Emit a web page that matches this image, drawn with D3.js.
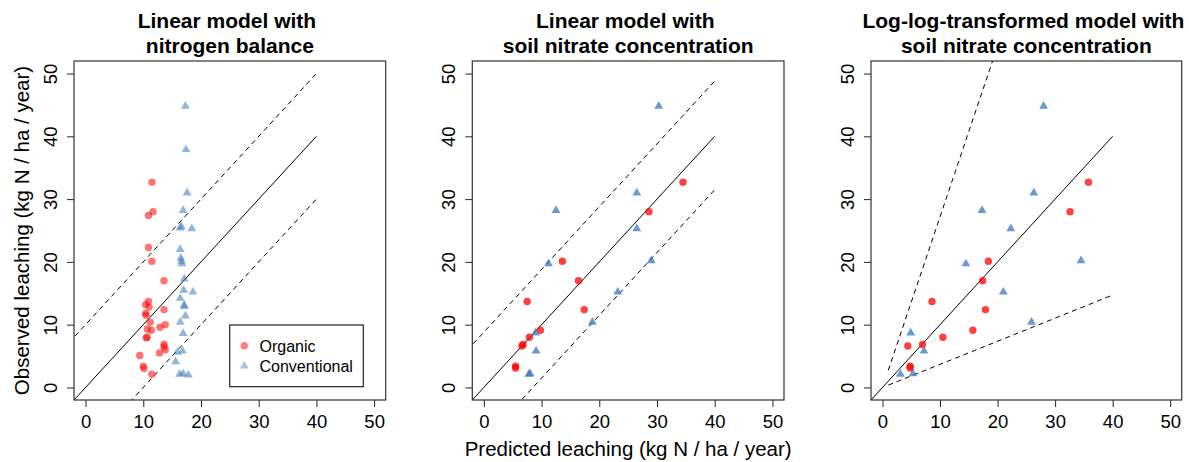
<!DOCTYPE html>
<html>
<head>
<meta charset="UTF-8">
<title>Observed vs predicted leaching</title>
<script src="https://cdn.jsdelivr.net/npm/d3@7"></script>
<style>
  body { margin: 0; background: #fff; }
  svg text { font-family: "Liberation Sans", Arial, sans-serif; fill: #000; }
  .title { font-weight: bold; font-size: 21px; white-space: pre; }
  .tick text { font-size: 18.5px; }
  .lab { font-size: 20.5px; }
  .legend text { font-size: 16px; }
</style>
</head>
<body>
<script>
// ---- data (kg N / ha / year) ----
// panel 1: nitrogen balance model, all sites
var nbOrgPred = [11.5, 11.7, 10.9, 10.9, 11.5, 13.6, 10.9, 10.4, 11.0, 13.6, 10.4, 10.5, 11.2, 13.8,
                 12.9, 10.7, 11.4, 10.7, 10.5, 13.6, 13.6, 13.8, 12.8, 9.4, 10.0, 10.1, 11.5];
var nbOrgObs  = [32.7, 28.0, 27.4, 22.3, 20.1, 17.0, 13.7, 13.2, 12.8, 12.4, 11.8, 11.5, 10.4, 10.0,
                 9.6, 9.3, 9.1, 8.0, 7.9, 6.9, 6.5, 6.0, 5.5, 5.1, 3.4, 3.0, 2.1];
var nbConPred = [17.3, 17.4, 17.6, 16.9, 16.6, 16.4, 18.4, 16.4, 16.5, 16.6, 16.7, 17.1, 17.0, 18.6,
                 16.4, 17.1, 17.1, 17.3, 16.4, 16.9, 15.9, 16.8, 15.6, 16.3, 16.9, 17.8];
var nbConObs  = [44.8, 37.9, 31.0, 28.2, 25.6, 25.4, 25.3, 22.0, 20.6, 20.1, 19.7, 17.3, 15.5, 15.2,
                 14.2, 12.9, 13.1, 11.4, 10.4, 8.6, 5.6, 5.8, 4.1, 2.1, 2.2, 2.0];

// panels 2 and 3: sites with soil nitrate data
var orgObs     = [32.7, 28.0, 20.1, 17.0, 13.7, 12.4, 9.1, 8.0, 6.85, 6.6, 3.4, 3.1];
var orgPredLin = [34.5, 28.6, 13.6, 16.4, 7.5, 17.4, 9.8, 7.9, 6.8, 6.6, 5.5, 5.5];
var orgPredLog = [35.8, 32.6, 18.4, 17.4, 8.6, 17.9, 15.7, 10.5, 6.95, 4.4, 4.8, 4.8];
var conObs     = [44.8, 31.0, 28.2, 25.3, 19.7, 20.2, 15.2, 10.4, 8.7, 5.8, 2.2, 2.1];
var conPredLin = [30.3, 26.5, 12.5, 26.5, 11.2, 29.0, 23.2, 18.8, 8.95, 9.05, 8.0, 7.8];
var conPredLog = [28.0, 26.3, 17.3, 22.3, 14.5, 34.5, 21.0, 25.9, 4.9, 7.2, 5.3, 3.1];

// reference lines: y = slope * x + offset, drawn over x range
var linSpan = [-5, 40];
var nbBand  = [10, -10];      // +/- offsets, panel 1
var linBand = [8.8, -8.5];    // panel 2
var logSpan = [1, 40];
var logBand = [Math.E, 1 / Math.E];  // multiplicative, panel 3

var ticks = [0, 10, 20, 30, 40, 50];
var titles = [
  ["Linear model with ", "nitrogen balance"],
  ["Linear model with ", "soil nitrate concentration"],
  ["Log-log-transformed model with ", "soil nitrate concentration"]
];
var legendLabels = ["Organic", "Conventional"];

// ---- drawing ----
var W = 1189, H = 462;
var svg = d3.select("body").append("svg").attr("width", W).attr("height", H);

var boxTop = 61, boxBottom = 400;
var panels = [
  {x0: 74,    x1: 385.7},
  {x0: 472.3, x1: 784},
  {x0: 871,   x1: 1181.7}
];

var red = "#ff0000", blue = "#3a78b8";
var tri = d3.symbol().type(d3.symbolTriangle).size(34);

function drawPanel(i, orgX, orgY, conX, conY, lines, alpha) {
  var p = panels[i];
  var x = d3.scaleLinear().domain([-2, 52]).range([p.x0, p.x1]);
  var y = d3.scaleLinear().domain([-2, 52]).range([boxBottom, boxTop]);
  var g = svg.append("g");
  var cx = (p.x0 + p.x1) / 2;

  g.append("clipPath").attr("id", "clip" + i)
    .append("rect").attr("x", p.x0).attr("y", boxTop)
    .attr("width", p.x1 - p.x0).attr("height", boxBottom - boxTop);

  // title
  g.append("text").attr("class", "title").attr("x", cx).attr("y", 28)
    .attr("text-anchor", "middle").text(titles[i][0]);
  g.append("text").attr("class", "title").attr("x", cx).attr("y", 53)
    .attr("text-anchor", "middle").text(titles[i][1]);

  // axes
  var xa = g.append("g").attr("transform", "translate(0," + boxBottom + ")")
    .call(d3.axisBottom(x).tickValues(ticks).tickSize(7).tickPadding(8).tickSizeOuter(0));
  xa.select(".domain").remove();
  xa.selectAll("text").attr("dy", 0).attr("y", 27.5);

  var ya = g.append("g").attr("transform", "translate(" + p.x0 + ",0)")
    .call(d3.axisLeft(y).tickValues(ticks).tickSize(7).tickSizeOuter(0));
  ya.select(".domain").remove();
  ya.selectAll(".tick text")
    .attr("x", null).attr("dy", 0)
    .attr("transform", "translate(-17,0) rotate(-90)")
    .attr("text-anchor", "middle");
  g.selectAll(".tick line").attr("stroke", "#222");

  // reference lines
  var lg = g.append("g").attr("clip-path", "url(#clip" + i + ")");
  var line = d3.line().x(function(d) { return x(d[0]); }).y(function(d) { return y(d[1]); });
  lines.forEach(function(l) {
    lg.append("path")
      .attr("d", line(l.pts))
      .attr("fill", "none").attr("stroke", "#000").attr("stroke-width", 1)
      .attr("stroke-dasharray", l.dash ? "5,4" : null);
  });

  // points
  var pg = g.append("g");
  pg.selectAll("circle").data(d3.zip(orgX, orgY)).join("circle")
    .attr("cx", function(d) { return x(d[0]); })
    .attr("cy", function(d) { return y(d[1]); })
    .attr("r", 3.7).attr("fill", red).attr("fill-opacity", alpha);
  pg.selectAll("path").data(d3.zip(conX, conY)).join("path")
    .attr("d", tri)
    .attr("transform", function(d) { return "translate(" + x(d[0]) + "," + y(d[1]) + ")"; })
    .attr("fill", blue).attr("fill-opacity", alpha);

  // box
  g.append("rect").attr("x", p.x0).attr("y", boxTop)
    .attr("width", p.x1 - p.x0).attr("height", boxBottom - boxTop)
    .attr("fill", "none").attr("stroke", "#333").attr("stroke-width", 1.2);

  return {x: x, y: y, g: g};
}

function offsetLine(span, k) { return span.map(function(v) { return [v, v + k]; }); }
function ratioLine(span, k) { return span.map(function(v) { return [v, v * k]; }); }

var p1 = drawPanel(0, nbOrgPred, nbOrgObs, nbConPred, nbConObs, [
  {pts: offsetLine(linSpan, 0)},
  {pts: offsetLine(linSpan, nbBand[0]), dash: true},
  {pts: offsetLine(linSpan, nbBand[1]), dash: true}
], 0.55);

drawPanel(1, orgPredLin, orgObs, conPredLin, conObs, [
  {pts: offsetLine(linSpan, 0)},
  {pts: offsetLine(linSpan, linBand[0]), dash: true},
  {pts: offsetLine(linSpan, linBand[1]), dash: true}
], 0.75);

drawPanel(2, orgPredLog, orgObs, conPredLog, conObs, [
  {pts: offsetLine(linSpan, 0)},
  {pts: ratioLine(logSpan, logBand[0]), dash: true},
  {pts: ratioLine(logSpan, logBand[1]), dash: true}
], 0.75);

// axis labels
svg.append("text").attr("class", "lab")
  .attr("transform", "translate(28.5," + (boxTop + boxBottom) / 2 + ") rotate(-90)")
  .attr("text-anchor", "middle")
  .text("Observed leaching (kg N / ha / year)");
svg.append("text").attr("class", "lab")
  .attr("x", (panels[1].x0 + panels[1].x1) / 2).attr("y", 456)
  .attr("text-anchor", "middle")
  .text("Predicted leaching (kg N / ha / year)");

// legend
var leg = svg.append("g").attr("class", "legend");
leg.append("rect").attr("x", 229.7).attr("y", 325).attr("width", 133.6).attr("height", 61.7)
  .attr("fill", "#fff").attr("stroke", "#222").attr("stroke-width", 1.2);
leg.append("circle").attr("cx", 244.3).attr("cy", 345.7).attr("r", 3.7)
  .attr("fill", red).attr("fill-opacity", 0.5);
leg.append("path").attr("d", tri).attr("transform", "translate(244.3,366)")
  .attr("fill", blue).attr("fill-opacity", 0.45);
legendLabels.forEach(function(t, k) {
  leg.append("text").attr("x", 259.5).attr("y", 351.5 + k * 20.3).text(t);
});
</script>
</body>
</html>
